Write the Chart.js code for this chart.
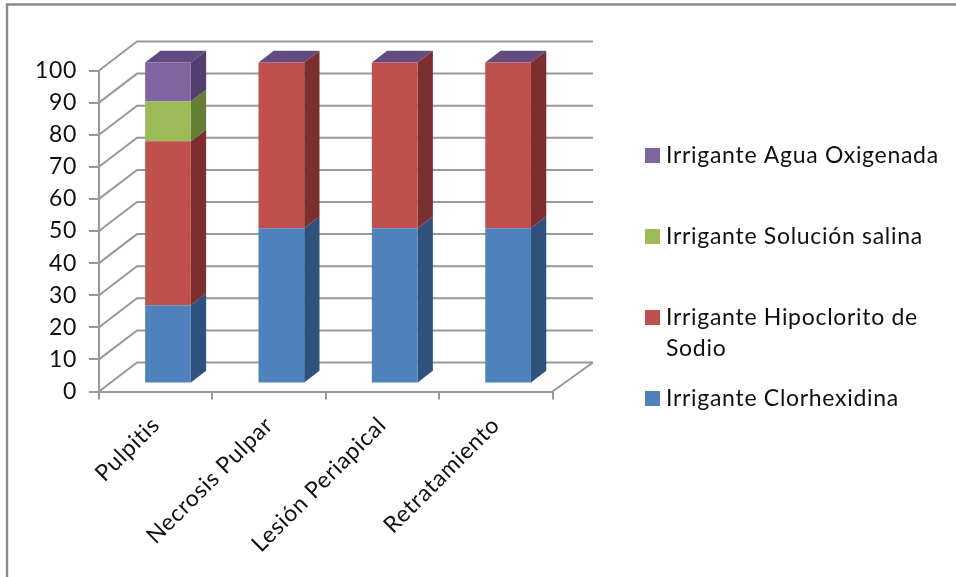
<!DOCTYPE html>
<html lang="es">
<head>
<meta charset="utf-8">
<title>Irrigantes por diagnóstico</title>
<script src="https://cdn.jsdelivr.net/npm/chart.js@4"></script>
<style>
  html, body { margin: 0; padding: 0; background: #fff; }
  canvas { display: block; }
</style>
</head>
<body>
<canvas id="grafico" width="956" height="577"></canvas>
<script>
const categorias = ["Pulpitis", "Necrosis Pulpar", "Lesión Periapical", "Retratamiento"];
const clorhexidina = [24.4, 48.4, 48.4, 48.4];
const hipoclorito = [51.1, 51.6, 51.6, 51.6];
const solucionSalina = [12.4, 0, 0, 0];
const aguaOxigenada = [12.1, 0, 0, 0];

const colorFrente = ["#4F81BD", "#C0504D", "#9BBB59", "#8064A2"];
const colorLado = ["#2F527C", "#7C2F2E", "#647E35", "#523F6E"];
const colorTecho = "#624B80";
const colorLinea = "#999999";
const fuente = { family: "Lato, 'Open Sans', sans-serif", size: 23 };

// profundidad de la caja 3D y de cada columna
const fondoX = 38, fondoY = -29, extraDer = 2.5;
const corrX = 12.3, corrY = -8;
const ladoX = 15.3, ladoY = -11.7;

function poligono(ctx, puntos, color) {
  ctx.fillStyle = color;
  ctx.beginPath();
  puntos.forEach((p, i) => i ? ctx.lineTo(p[0], p[1]) : ctx.moveTo(p[0], p[1]));
  ctx.closePath();
  ctx.fill();
}

// paredes de la caja: lineas de guia en diagonal y al fondo
function dibujarCaja(chart) {
  const { ctx, scales: { x, y } } = chart;
  ctx.save();
  ctx.strokeStyle = colorLinea;
  ctx.lineWidth = 2;
  ctx.beginPath();
  y.ticks.forEach(t => {
    const py = y.getPixelForValue(t.value);
    ctx.moveTo(x.left, py);
    ctx.lineTo(x.left + fondoX, py + fondoY);
    ctx.lineTo(x.right + fondoX + extraDer, py + fondoY);
  });
  const base = y.getPixelForValue(0);
  ctx.moveTo(x.right, base);
  ctx.lineTo(x.right + fondoX + extraDer, base + fondoY);
  ctx.stroke();
  ctx.restore();
}

// caras laterales y techo de cada columna
function dibujarCaras(chart) {
  const ctx = chart.ctx;
  chart.data.datasets.forEach((ds, d) => {
    chart.getDatasetMeta(d).data.forEach(bar => {
      const der = bar.x + bar.width / 2;
      const izq = bar.x - bar.width / 2;
      poligono(ctx, [
        [der, bar.base], [der + ladoX, bar.base + ladoY],
        [der + ladoX, bar.y + ladoY], [der, bar.y]
      ], colorLado[d]);
      if (d === chart.data.datasets.length - 1) {
        poligono(ctx, [
          [izq, bar.y], [der, bar.y],
          [der + ladoX, bar.y + ladoY], [izq + ladoX, bar.y + ladoY]
        ], colorTecho);
      }
    });
  });
}

const caja3d = {
  id: "caja3d",
  beforeDraw(chart) {
    const ctx = chart.ctx;
    // el texto va algo mas separado que el espaciado normal de la fuente
    ctx.letterSpacing = "0.7px";
    ctx.save();
    ctx.fillStyle = "#fff";
    ctx.fillRect(0, 0, chart.width, chart.height);
    // marco exterior
    ctx.strokeStyle = "#8A8A8A";
    ctx.lineWidth = 2.4;
    ctx.beginPath();
    ctx.moveTo(7, chart.height);
    ctx.lineTo(7, 4.5);
    ctx.lineTo(chart.width, 4.5);
    ctx.stroke();
    ctx.restore();
  },
  beforeDatasetsDraw(chart) {
    dibujarCaja(chart);
    chart.ctx.save();
    chart.ctx.translate(corrX, corrY);
    dibujarCaras(chart);
  },
  afterDatasetsDraw(chart) {
    chart.ctx.restore();
  }
};

// leyenda a mano: el texto del hipoclorito ocupa dos lineas
const leyenda = {
  id: "leyendaIrrigantes",
  afterDraw(chart) {
    const ctx = chart.ctx;
    const filas = [
      { d: 3, y: 148, lineas: ["Irrigante Agua Oxigenada"] },
      { d: 2, y: 229, lineas: ["Irrigante Solución salina"] },
      { d: 1, y: 310, lineas: ["Irrigante Hipoclorito de", "Sodio"] },
      { d: 0, y: 391, lineas: ["Irrigante Clorhexidina"] }
    ];
    ctx.save();
    ctx.font = `${fuente.size}px ${fuente.family}`;
    ctx.textBaseline = "middle";
    filas.forEach(f => {
      ctx.fillStyle = colorFrente[f.d];
      ctx.fillRect(645, f.y, 15, 15);
      ctx.fillStyle = "#111";
      f.lineas.forEach((t, i) => ctx.fillText(t, 666, f.y + 7.5 + i * 31));
    });
    ctx.restore();
  }
};

new Chart(document.getElementById("grafico"), {
  type: "bar",
  data: {
    labels: categorias,
    datasets: [
      { label: "Irrigante Clorhexidina", data: clorhexidina, backgroundColor: colorFrente[0] },
      { label: "Irrigante Hipoclorito de Sodio", data: hipoclorito, backgroundColor: colorFrente[1] },
      { label: "Irrigante Solución salina", data: solucionSalina, backgroundColor: colorFrente[2] },
      { label: "Irrigante Agua Oxigenada", data: aguaOxigenada, backgroundColor: colorFrente[3] }
    ]
  },
  plugins: [caja3d, leyenda],
  options: {
    responsive: false,
    animation: false,
    clip: false,
    barPercentage: 0.403,
    categoryPercentage: 1,
    layout: { padding: { top: 70.5, right: 403.5, left: 0, bottom: 0 } },
    plugins: { legend: { display: false }, tooltip: { enabled: false } },
    scales: {
      x: {
        stacked: true,
        afterFit: s => { s.height = 185.5; },
        grid: { drawOnChartArea: false, color: colorLinea, lineWidth: 2, tickLength: 8 },
        border: { color: colorLinea, width: 2 },
        ticks: { font: fuente, color: "#111", minRotation: 45, maxRotation: 45, padding: 12 }
      },
      y: {
        stacked: true,
        min: 0,
        max: 100,
        afterFit: s => { s.width = 99; },
        grid: { drawOnChartArea: false, color: colorLinea, lineWidth: 2, tickLength: 10 },
        border: { color: colorLinea, width: 2 },
        ticks: { stepSize: 10, font: fuente, color: "#111", padding: 12 }
      }
    }
  }
});
</script>
</body>
</html>
